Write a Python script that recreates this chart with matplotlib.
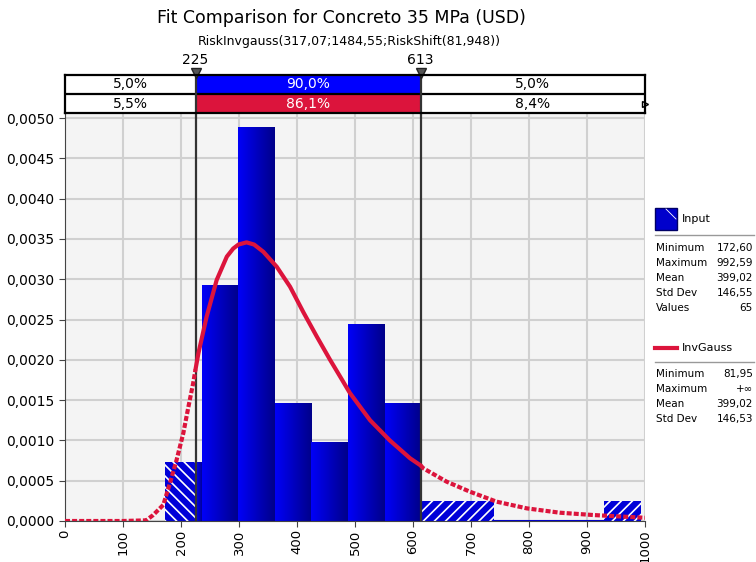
import numpy as np
import matplotlib
matplotlib.use('Agg')
import matplotlib.pyplot as plt
from matplotlib.colors import LinearSegmentedColormap
from matplotlib.patches import Rectangle
from matplotlib.lines import Line2D

plt.rcParams['font.family'] = ['DejaVu Sans']
plt.rcParams['hatch.color'] = 'white'
plt.rcParams['hatch.linewidth'] = 1.2

# histogram of the input values (probability density per bin)
bin_edges = [172.6, 235.7, 298.8, 361.8, 424.9, 488.0, 551.1, 614.1,
             677.2, 740.3, 803.4, 866.5, 929.5, 992.6]
bin_density = [0.000732, 0.002927, 0.004878, 0.001463, 0.000976, 0.002439,
               0.001463, 0.000244, 0.000244, 0.0, 0.0, 0.0, 0.000244]

# fitted InvGauss curve
curve_x = [0, 100, 140, 152, 169.5, 181, 192.5, 204, 212.6, 221, 225, 230,
           244, 261.5, 279, 290, 299, 313, 326, 342, 365, 388, 411, 434,
           457, 477, 491, 526, 560, 595, 613, 618, 658, 698, 744, 796, 853,
           911, 1000]
curve_y = [0.0, 0.0, 0.000008, 0.000074, 0.0002, 0.00047, 0.00076, 0.00109,
           0.00141, 0.00171, 0.00188, 0.00208, 0.00253, 0.00299, 0.00328,
           0.00338, 0.00343, 0.003457, 0.00343, 0.00334, 0.003155, 0.002907,
           0.00259, 0.00229, 0.00200, 0.00176, 0.00159, 0.00125, 0.001,
           0.000778, 0.00069, 0.000653, 0.000488, 0.000364, 0.00024,
           0.000157, 0.000103, 0.000074, 0.00004]

# delimiters and the percentages between them
lo_mark, hi_mark = 225, 613
input_pct = ['5,0%', '90,0%', '5,0%']
fit_pct = ['5,5%', '86,1%', '8,4%']

y_ticks = [0.0, 0.0005, 0.001, 0.0015, 0.002, 0.0025, 0.003, 0.0035,
           0.004, 0.0045, 0.005]
x_ticks = [0, 100, 200, 300, 400, 500, 600, 700, 800, 900, 1000]

input_stats = [('Minimum', '172,60'), ('Maximum', '992,59'),
               ('Mean', '399,02'), ('Std Dev', '146,55'), ('Values', '65')]
fit_stats = [('Minimum', '81,95'), ('Maximum', '+∞'),
             ('Mean', '399,02'), ('Std Dev', '146,53')]

blue = '#0000ff'
hatch_blue = '#0000d8'
crimson = '#dc143c'
grad_cmap = LinearSegmentedColormap.from_list('bars', ['#00008a', '#0000f8'])

W, H = 756, 562
fig = plt.figure(figsize=(W / 100, H / 100), dpi=100)


def fx(px):
    return px / W


def fy(py):
    return 1 - py / H


# main plot
ax = fig.add_axes([fx(65), fy(521), fx(645) - fx(65), fy(113) - fy(521)])
ax.set_facecolor('#f4f4f4')

edges = np.array(bin_edges)
grad = np.linspace(1, 0, 64).reshape(1, -1)
for l, r, h in zip(edges[:-1], edges[1:], bin_density):
    if h == 0:
        ax.bar(l, 0, width=r - l, align='edge', color='none',
               edgecolor='#0000cc', lw=1.5, zorder=2)
        continue
    if l < lo_mark:
        ax.bar(l, h, width=min(r, lo_mark) - l, align='edge', color=hatch_blue,
               edgecolor='white', lw=0, hatch='\\\\\\', zorder=2)
    if r > hi_mark:
        s = max(l, hi_mark)
        ax.bar(s, h, width=r - s, align='edge', color=hatch_blue,
               edgecolor='white', lw=0, hatch='///', zorder=2)
    s0, s1 = max(l, lo_mark), min(r, hi_mark)
    if s1 > s0:
        ax.imshow(grad, extent=[s0, s1, 0, h], cmap=grad_cmap, aspect='auto',
                  interpolation='bilinear', zorder=2)

for m in (lo_mark, hi_mark):
    ax.axvline(m, color='#333333', lw=1.6, zorder=3)

cx = np.array(curve_x)
cy = np.array(curve_y)
left = cx <= lo_mark
mid = (cx >= lo_mark) & (cx <= hi_mark)
right = cx >= hi_mark
ax.plot(cx[left], cy[left], color=crimson, lw=3, dashes=(1.2, 0.5), zorder=4)
ax.plot(cx[right], cy[right], color=crimson, lw=3, dashes=(1.2, 0.5), zorder=4)
ax.plot(cx[mid], cy[mid], color=crimson, lw=3, solid_capstyle='round',
        solid_joinstyle='round', zorder=4)

ax.set_xlim(0, 1000)
ax.set_ylim(0, 0.005 * 408 / 403)
ax.set_xticks(x_ticks)
ax.set_xticklabels([str(v) for v in x_ticks], rotation=90, fontsize=9.5)
ax.set_yticks(y_ticks)
ax.set_yticklabels([('%.4f' % v).replace('.', ',') for v in y_ticks],
                   fontsize=10)
ax.tick_params(length=4, color='#444444')
ax.tick_params(axis='x', pad=2)
ax.grid(True, color='#d0d0d0', lw=1.5)
ax.set_axisbelow(True)
for s in ('top', 'right'):
    ax.spines[s].set_visible(False)
for s in ('left', 'bottom'):
    ax.spines[s].set_color('#444444')

# delimiter bars above the plot
at = fig.add_axes([fx(65), fy(113), fx(645) - fx(65), fy(75) - fy(113)])
at.set_xlim(0, 1000)
at.set_ylim(0, 2)
at.set_xticks([])
at.set_yticks([])
for s in at.spines.values():
    s.set_linewidth(1.6)
at.barh([1.5, 0.5], [hi_mark - lo_mark] * 2, left=lo_mark, height=1,
        color=[blue, crimson])
at.axhline(1, color='black', lw=1.6)
centers = [lo_mark / 2, (lo_mark + hi_mark) / 2, (hi_mark + 1000) / 2]
for i, c in enumerate(centers):
    col = 'white' if i == 1 else 'black'
    at.text(c, 1.5, input_pct[i], ha='center', va='center', fontsize=10,
            color=col)
    at.text(c, 0.5, fit_pct[i], ha='center', va='center', fontsize=10,
            color=col)
for m in (lo_mark, hi_mark):
    at.plot([m, m], [0, 2.1], color='#333333', lw=1.6, clip_on=False)
    at.text(m, 2.8, str(m), ha='center', va='center', fontsize=10)
at.plot([lo_mark, hi_mark], [2.12, 2.12], ls='none', marker='v', ms=7,
        color='#555555', mec='#222222', clip_on=False)
at.plot(1000, 0.5, marker='>', ms=5, mfc='white', mec='black', mew=1,
        clip_on=False)

# titles
fig.text(fx(341), fy(18), 'Fit Comparison for Concreto 35 MPa (USD)',
         ha='center', va='center', fontsize=12.5)
fig.text(fx(349), fy(42), 'RiskInvgauss(317,07;1484,55;RiskShift(81,948))',
         ha='center', va='center', fontsize=9)

# legend on the right
fig.patches.append(Rectangle((fx(655), fy(230)), fx(677) - fx(655),
                             fy(208) - fy(230), facecolor='#0000cc',
                             edgecolor='#000066', lw=1,
                             transform=fig.transFigure))
fig.lines.append(Line2D([fx(666), fx(676)], [fy(209), fy(219)], color='white',
                        lw=0.6, transform=fig.transFigure))
fig.text(fx(682), fy(219), 'Input', va='center', fontsize=8)
fig.lines.append(Line2D([fx(655), fx(754)], [fy(235), fy(235)],
                        color='#999999', lw=1, transform=fig.transFigure))
for i, (k, v) in enumerate(input_stats):
    y = fy(248 + 15 * i)
    fig.text(fx(656), y, k, va='center', fontsize=7.5)
    fig.text(fx(753), y, v, va='center', ha='right', fontsize=7.5)

fig.lines.append(Line2D([fx(655), fx(677)], [fy(348), fy(348)], color=crimson,
                        lw=3, transform=fig.transFigure))
fig.text(fx(682), fy(348), 'InvGauss', va='center', fontsize=8)
fig.lines.append(Line2D([fx(655), fx(754)], [fy(362), fy(362)],
                        color='#999999', lw=1, transform=fig.transFigure))
for i, (k, v) in enumerate(fit_stats):
    y = fy(374 + 15 * i)
    fig.text(fx(656), y, k, va='center', fontsize=7.5)
    fig.text(fx(753), y, v, va='center', ha='right', fontsize=7.5)

fig.savefig('out.png', dpi=100)
